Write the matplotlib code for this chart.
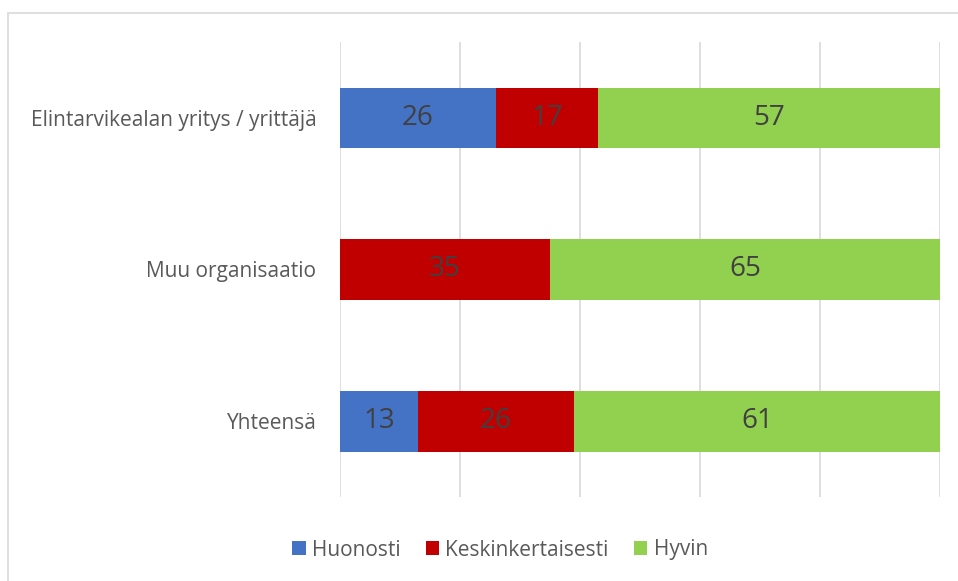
import matplotlib.pyplot as plt
from matplotlib.patches import Rectangle
import numpy as np

# Data (prosentit)
categories = ['Elintarvikealan yritys / yrittäjä', 'Muu organisaatio', 'Yhteensä']
series = ['Huonosti', 'Keskinkertaisesti', 'Hyvin']
huonosti = [26, 0, 13]
keskinkert = [17, 35, 26]
hyvin = [57, 65, 61]
colors = ['#4472C4', '#C00000', '#92D050']

plt.rcParams['font.family'] = ['Open Sans', 'DejaVu Sans']

fig = plt.figure(figsize=(9.58, 5.81), dpi=100)
ax = fig.add_axes([340 / 958, 1 - 497 / 581, 600 / 958, 455 / 581])

# Kehys kaavion ympärillä
fig.patches.append(Rectangle((8 / 958, -0.1), 1.2, 1 - 13 / 581 + 0.1,
                             transform=fig.transFigure, fill=False,
                             edgecolor='#D9D9D9', linewidth=1.2))

y = np.arange(len(categories))
left = np.zeros(len(categories))
for name, vals, col in zip(series, [huonosti, keskinkert, hyvin], colors):
    vals = np.array(vals)
    bars = ax.barh(y, vals, left=left, height=0.4, color=col, label=name, zorder=3)
    for b, v in zip(bars, vals):
        if v > 0:
            ax.text(b.get_x() + b.get_width() / 2, b.get_y() + b.get_height() / 2,
                    str(v), ha='center', va='center', fontsize=20,
                    color='#404040', zorder=4)
    left += vals

ax.set_xlim(0, 100)
ax.set_ylim(-0.5, 2.5)
ax.invert_yaxis()
ax.set_xticks(np.arange(0, 101, 20))
ax.xaxis.grid(True, color='#D9D9D9', linewidth=1.2, zorder=0)
ax.tick_params(axis='x', length=0, labelbottom=False)
ax.tick_params(axis='y', length=0, pad=17, labelsize=15, labelcolor='#595959')
ax.set_yticks(y)
ax.set_yticklabels(categories)
for s in ax.spines.values():
    s.set_visible(False)

fig.legend(loc='center', bbox_to_anchor=(500 / 958, 1 - 550 / 581), ncol=3,
           frameon=False, fontsize=15, labelcolor='#595959',
           handlelength=0.65, handleheight=0.65, handletextpad=0.3,
           columnspacing=1.2)

fig.savefig('out.png', dpi=100)
